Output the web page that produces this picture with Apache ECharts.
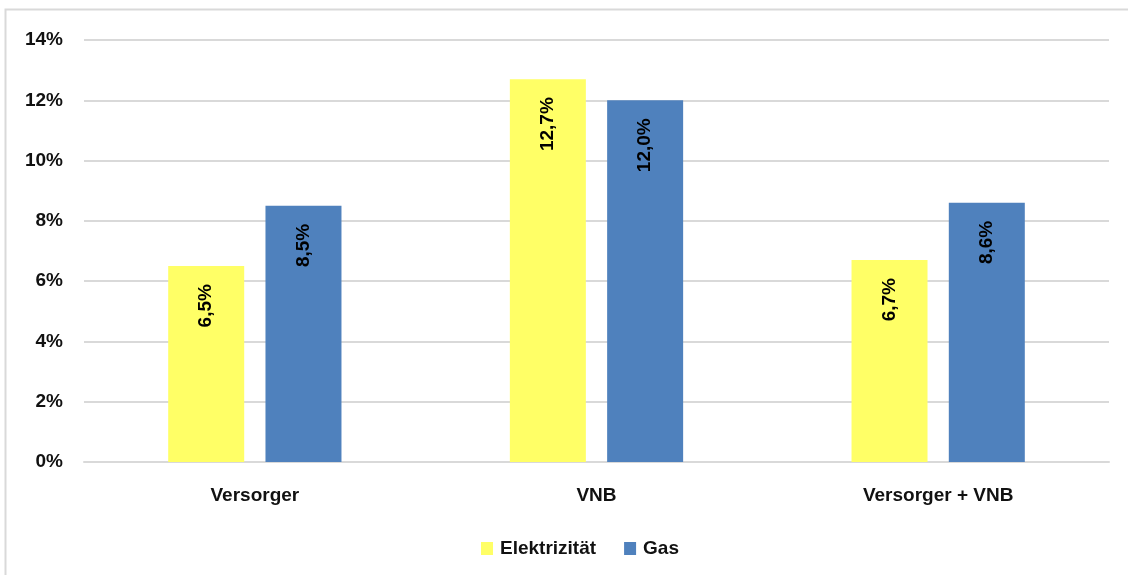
<!DOCTYPE html>
<html>
<head>
<meta charset="utf-8">
<script src="https://cdn.jsdelivr.net/npm/echarts@6/dist/echarts.min.js"></script>
<style>
  html, body { margin: 0; padding: 0; background: #ffffff; }
  #chart { width: 1128px; height: 575px; }
</style>
</head>
<body>
<div id="chart"></div>
<script>
// Categories and shares (percent)
const categories = ['Versorger', 'VNB', 'Versorger + VNB'];
const elektrizitaet = [6.5, 12.7, 6.7];
const gas = [8.5, 12.0, 8.6];
const yTicks = [0, 2, 4, 6, 8, 10, 12, 14];

const textColor = '#111111';
const fontFamily = '"Liberation Sans", Arial, sans-serif';
const fontSize = 19;

const fmt = v => v.toFixed(1).replace('.', ',') + '%';

const barLabel = {
  show: true,
  position: 'insideTop',
  rotate: 90,
  align: 'right',
  verticalAlign: 'middle',
  distance: 18,
  color: '#000000',
  fontFamily: fontFamily,
  fontSize: fontSize,
  fontWeight: 'bold',
  formatter: p => fmt(p.value)
};

const chart = echarts.init(document.getElementById('chart'));
chart.setOption({
  animation: false,
  backgroundColor: '#ffffff',
  textStyle: { fontFamily: fontFamily },
  graphic: [{
    type: 'polyline',
    shape: { points: [[5.5, 575], [5.5, 9.5], [1128, 9.5]] },
    style: { stroke: '#d9d9d9', lineWidth: 2, fill: null },
    silent: true
  }],
  grid: { left: 84, right: 19, top: 40, bottom: 113 },
  legend: {
    top: 534,
    left: 476,
    itemWidth: 12,
    itemHeight: 13,
    itemGap: 28,
    icon: 'rect',
    textStyle: { color: textColor, fontSize: fontSize, fontWeight: 'bold', fontFamily: fontFamily, padding: [0, 0, 0, 2] },
    data: ['Elektrizität', 'Gas']
  },
  xAxis: {
    type: 'category',
    data: categories,
    axisLine: { lineStyle: { color: '#d9d9d9', width: 2 } },
    axisTick: { show: false },
    axisLabel: { color: textColor, fontSize: fontSize, fontWeight: 'bold', margin: 24, fontFamily: fontFamily }
  },
  yAxis: {
    type: 'value',
    min: yTicks[0],
    max: yTicks[yTicks.length - 1],
    interval: 2,
    axisLine: { show: false },
    axisTick: { show: false },
    splitLine: { lineStyle: { color: '#d9d9d9', width: 2 } },
    axisLabel: {
      color: textColor, fontSize: fontSize, fontWeight: 'bold', margin: 21, fontFamily: fontFamily,
      formatter: v => v + '%'
    }
  },
  series: [
    {
      name: 'Elektrizität',
      type: 'bar',
      data: elektrizitaet,
      barWidth: 76,
      barGap: '28%',
      itemStyle: { color: '#ffff66' },
      label: barLabel
    },
    {
      name: 'Gas',
      type: 'bar',
      data: gas,
      barWidth: 76,
      barGap: '28%',
      itemStyle: { color: '#4f81bd' },
      label: barLabel
    }
  ]
});
</script>
</body>
</html>
